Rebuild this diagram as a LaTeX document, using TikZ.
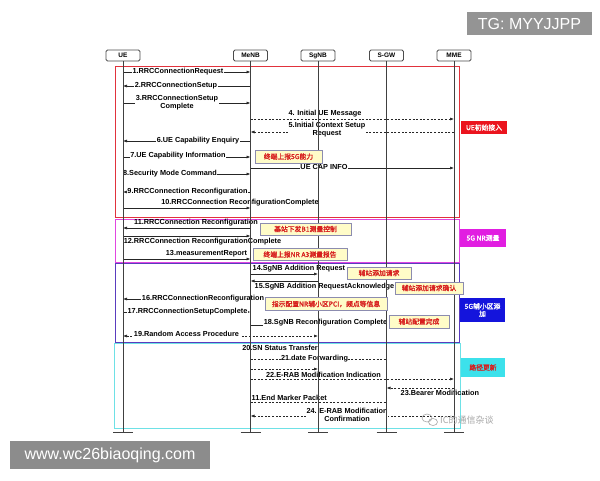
\documentclass[tikz,border=0pt]{standalone}
\usepackage{fontspec}
\setmainfont{Liberation Sans}
\newfontfamily\cjk{Noto Sans CJK SC}[AutoFakeBold=1.6]
\usetikzlibrary{arrows.meta}
\newcommand\mf{\fontsize{7.3}{7.8}\selectfont\bfseries}
\newcommand\cf{\fontsize{6.8}{7.4}\selectfont\cjk\bfseries}
\definecolor{fred}{RGB}{225,50,60}
\definecolor{fmag}{RGB}{225,70,225}
\definecolor{fpur}{RGB}{90,60,190}
\definecolor{fcya}{RGB}{110,225,230}
\definecolor{tagred}{RGB}{235,20,30}
\definecolor{tagmag}{RGB}{225,30,225}
\definecolor{tagblu}{RGB}{20,20,220}
\definecolor{tagcya}{RGB}{60,225,235}
\definecolor{notebd}{RGB}{140,140,175}
\definecolor{notefill}{RGB}{255,252,200}
\definecolor{notetx}{RGB}{215,30,30}
\definecolor{wm}{RGB}{165,165,165}
\tikzset{
 ent/.style={draw=black!70, line width=0.8pt, rounded corners=1.5pt, fill=white, minimum width=34pt, minimum height=11pt, inner sep=0pt, font=\fontsize{6.5}{7}\selectfont\bfseries},
 life/.style={draw=black!75, line width=0.8pt},
 msgline/.style={draw=black!85, line width=0.65pt, -{Latex[length=4pt,width=3pt]}},
 dmsgline/.style={msgline, dash pattern=on 2pt off 1.6pt},
 dline/.style={draw=black!85, line width=0.65pt, dash pattern=on 2pt off 1.6pt},
 lbl/.style={font=\mf, fill=white, inner sep=0.5pt, align=center},
 tlbl/.style={font=\mf, inner sep=0.5pt, align=center},
 note/.style={draw=notebd, line width=0.7pt, fill=notefill, text=notetx, font=\cf, inner sep=0pt, minimum height=12pt},
 tag/.style={font=\cf, inner sep=0pt, align=center, text=white},
 frame/.style={line width=1pt}
}
\begin{document}
\begin{tikzpicture}[x=1pt,y=-1pt]
\useasboundingbox (0,0) rectangle (600,480);
% frames
\draw[frame, fred] (115,66.7) rectangle (459,217);
\draw[frame, fmag] (115,219) rectangle (459,262);
\draw[frame, fpur] (115,263.5) rectangle (459,342);
\draw[frame, fcya] (114,343.5) rectangle (460,428);
% tags
\node[tag, fill=tagred, minimum width=46pt, minimum height=13pt] (t1) at (484,127.5) {UE初始接入};
\node[tag, fill=tagmag, minimum width=46pt, minimum height=18pt] (t2) at (483,238) {5G NR测量};
\node[tag, fill=tagblu, minimum width=45pt, minimum height=24pt] (t3) at (482.5,310) {5G辅小区添\\加};
\node[tag, fill=tagcya, text=notetx, minimum width=44pt, minimum height=19pt] (t4) at (483,367.5) {路径更新};
% entities
\node[ent] (UE) at (123,55.5) {UE};
\node[ent] (MeNB) at (250.5,55.5) {MeNB};
\node[ent] (SgNB) at (318,55.5) {SgNB};
\node[ent] (SGW) at (386.5,55.5) {S-GW};
\node[ent] (MME) at (454,55.5) {MME};
\coordinate (bot) at (0,432);
% rows
\foreach \n/\y in {1/72,2/86,3/103,4/119,5/132,6/141,7/157,c/168,8/174,9/192,10/208,11/228,12/236,13/259,14/274,15/281,16/299,17/312,18/325,19/336,20/349,21/359,21b/369,22/379,23/388,e/402,24/416}
  \coordinate (r\n) at (0,\y);
% messages
\draw[msgline] (UE|-r1) -- (MeNB|-r1);
\draw[msgline] (MeNB|-r2) -- (UE|-r2);
\draw[msgline] (UE|-r3) -- (MeNB|-r3);
\draw[dmsgline] (MeNB|-r4) -- (MME|-r4);
\draw[dmsgline] (MME|-r5) -- (MeNB|-r5);
\draw[msgline] (MeNB|-r6) -- (UE|-r6);
\draw[msgline] (UE|-r7) -- (MeNB|-r7);
\draw[msgline] (MeNB|-rc) -- (MME|-rc);
\draw[msgline] (UE|-r8) -- (MeNB|-r8);
\draw[msgline] (MeNB|-r9) -- (UE|-r9);
\draw[msgline] (UE|-r10) -- (MeNB|-r10);
\draw[msgline] (MeNB|-r11) -- (UE|-r11);
\draw[msgline] (UE|-r12) -- (MeNB|-r12);
\draw[msgline] (UE|-r13) -- (MeNB|-r13);
\draw[msgline] (MeNB|-r14) -- (SgNB|-r14);
\draw[msgline] (SgNB|-r15) -- (MeNB|-r15);
\draw[msgline] (MeNB|-r16) -- (UE|-r16);
\draw[msgline] (UE|-r17) -- (MeNB|-r17);
\draw[msgline] (MeNB|-r18) -- (SgNB|-r18);
\draw[dline, {Latex[length=4pt,width=3pt]}-{Latex[length=4pt,width=3pt]}] (UE|-r19) -- (SgNB|-r19);
\draw[msgline] (MeNB|-r20) -- (SgNB|-r20);
\draw[dline] (MeNB|-r21) -- (SGW|-r21);
\draw[dmsgline] (MeNB|-r21b) -- (SgNB|-r21b);
\draw[dmsgline] (MeNB|-r22) -- (MME|-r22);
\draw[dmsgline] (MME|-r23) -- (SGW|-r23);
\draw[dline] (MeNB|-re) -- (SGW|-re);
\draw[dmsgline] (MME|-r24) -- (MeNB|-r24);
% labels
\node[lbl] (l1) at (178,72) {1.RRCConnectionRequest};
\node[lbl] (l2) at (176,86) {2.RRCConnectionSetup};
\node[lbl] (l3) at (177,102.5) {3.RRCConnectionSetup\\Complete};
\node[tlbl, anchor=south] (l4) at (325,117.5) {4. Initial UE Message};
\node[lbl] (l5) at (327,130) {5.Initial Context Setup\\Request};
\node[lbl] (l6) at (198,141) {6.UE Capability Enquiry};
\node[lbl] (l7) at (178,156) {7.UE Capability Information};
\node[lbl] (lc) at (324,167) {UE CAP INFO};
\node[lbl] (l8) at (170,174) {8.Security Mode Command};
\node[lbl] (l9) at (187.5,192) {9.RRCConnection Reconfiguration};
\node[tlbl, anchor=south] (l10) at (240,207) {10.RRCConnection ReconfigurationComplete};
\node[tlbl, anchor=south] (l11) at (196,227) {11.RRCConnection Reconfiguration};
\node[tlbl, anchor=north] (l12) at (202.5,238) {12.RRCConnection ReconfigurationComplete};
\node[tlbl, anchor=south] (l13) at (206.5,258) {13.measurementReport};
\node[tlbl, anchor=south west] (l14) at (252,273) {14.SgNB Addition Request};
\node[tlbl, anchor=north] (l15) at (324.5,282.5) {15.SgNB Addition RequestAcknowledge};
\node[lbl] (l16) at (203,299) {16.RRCConnectionReconfiguration};
\node[lbl] (l17) at (187.5,312) {17.RRCConnectionSetupComplete};
\node[lbl] (l18) at (325.5,323) {18.SgNB Reconfiguration Complete};
\node[lbl] (l19) at (186.5,334) {19.Random Access Procedure};
\node[lbl] (l20) at (280,348) {20.SN Status Transfer};
\node[lbl] (l21) at (314.5,358.5) {21.date Forwarding};
\node[tlbl, anchor=south] (l22) at (323.5,378) {22.E-RAB Modification Indication};
\node[tlbl, anchor=north west] (l23) at (400,390) {23.Bearer Modification};
\node[tlbl, anchor=south west] (le) at (251,401) {11.End Marker Packet};
\node[lbl] (l24) at (347,414.5) {24. E-RAB Modification\\Confirmation};
% lifelines
\foreach \e in {UE,MeNB,SgNB,SGW,MME}{
  \draw[life] (\e.south) -- (\e|-bot);
  \draw[life] ([xshift=-10pt]\e|-bot) -- ([xshift=10pt]\e|-bot);
}
% notes
\node[note, minimum width=67pt, minimum height=13pt] (n1) at (288.5,156.5) {终端上报5G能力};
\node[note, minimum width=91pt] (n2) at (305.5,229) {基站下发B1测量控制};
\node[note, minimum width=94pt] (n3) at (300,254.5) {终端上报NR A3测量报告};
\node[note, minimum width=64pt] (n4) at (379,273) {辅站添加请求};
\node[note, minimum width=68pt] (n5) at (429,288) {辅站添加请求确认};
\node[note, minimum width=122pt, minimum height=13pt] (n6) at (326,304) {指示配置NR辅小区PCI，频点等信息};
\node[note, minimum width=60pt, minimum height=13pt] (n7) at (419,321.5) {辅站配置完成};
% watermarks
\node[fill=wm!90!black, text=white, font=\fontsize{16}{18}\selectfont, minimum width=125pt, minimum height=23pt, inner sep=0pt] (tg) at (529.5,23.5) {TG: MYYJJPP};
\node[fill=wm!85!black, text=white, font=\fontsize{16}{18}\selectfont, minimum width=200pt, minimum height=28pt, inner sep=0pt] (www) at (110,455) {www.wc26biaoqing.com};
\draw[wm, line width=0.6pt] (427,418) ellipse (5pt and 4pt);
\draw[wm, line width=0.6pt] (433,422) ellipse (4.5pt and 3.5pt);
\node[text=wm, font=\fontsize{9}{10}\selectfont\cjk, inner sep=0pt, anchor=west] (ic) at (440,420) {IC的通信杂谈};
\end{tikzpicture}
\end{document}
